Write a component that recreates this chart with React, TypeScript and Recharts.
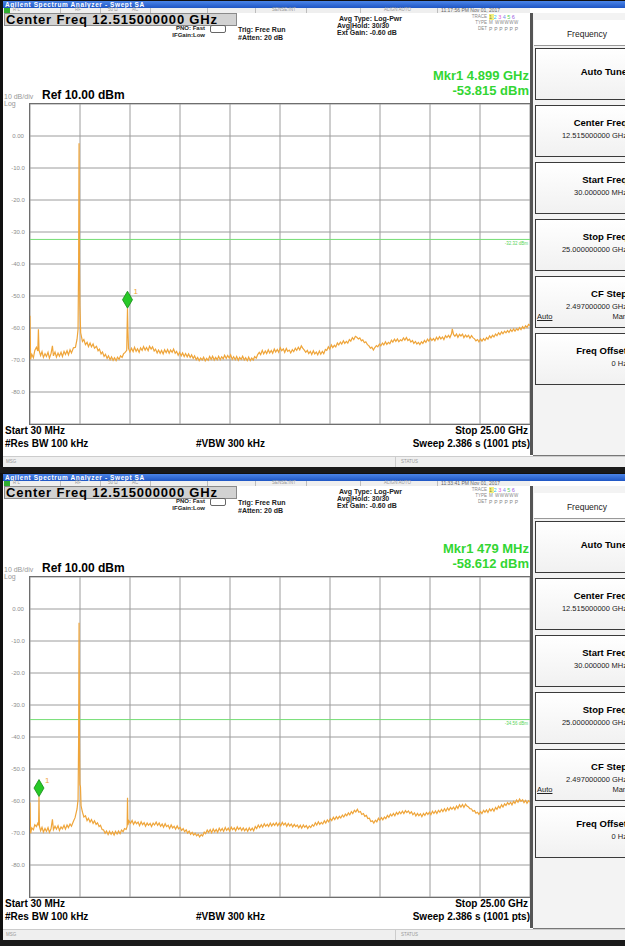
import React from 'react';
import {
  LineChart,
  Line,
  XAxis,
  YAxis,
  CartesianGrid,
  ReferenceLine,
  ReferenceDot,
} from 'recharts';

// sweep axis: start 30 MHz, stop 25 GHz, 10 divisions (CF step 2.497 GHz)
const FREQ_TICKS_GHZ = [0.03, 2.527, 5.024, 7.521, 10.018, 12.515, 15.012, 17.509, 20.006, 22.503, 25];
const LEVEL_TICKS_DBM = [10, 0, -10, -20, -30, -40, -50, -60, -70, -80, -90];
const LEVEL_TICK_LABELS = ['', '0.00', '-10.0', '-20.0', '-30.0', '-40.0', '-50.0', '-60.0', '-70.0', '-80.0', ''];

// [GHz, dBm]
const TRACE_TOP: [number, number][] = [
  [0.03, -56.2], [0.06, -69.8], [0.12, -68.2], [0.2, -69.3], [0.27, -67.0], [0.35, -66.0], [0.42, -67.2], [0.45, -60.4],
  [0.48, -66.9], [0.56, -68.6], [0.63, -67.4], [0.7, -69.2], [0.78, -68.0], [0.85, -68.9], [0.93, -67.6], [1.0, -69.4],
  [1.08, -68.0], [1.15, -65.6], [1.2, -68.7], [1.28, -67.5], [1.35, -69.1], [1.43, -67.8], [1.5, -68.8], [1.58, -67.6],
  [1.65, -68.9], [1.73, -67.3], [1.8, -68.3], [1.88, -67.1], [1.95, -68.4], [2.03, -66.8], [2.1, -67.8], [2.2, -66.2],
  [2.3, -66.0], [2.38, -63.5], [2.43, -60.4], [2.46, -38.0], [2.48, -2.3], [2.5, -40.0], [2.52, -53.0], [2.56, -61.5],
  [2.65, -64.2], [2.72, -63.6], [2.8, -65.2], [2.88, -64.5], [2.95, -65.8], [3.03, -64.7], [3.1, -65.9], [3.18, -65.0],
  [3.25, -66.3], [3.35, -65.7], [3.43, -67.1], [3.5, -66.6], [3.58, -68.1], [3.65, -67.5], [3.73, -68.9], [3.8, -68.2],
  [3.88, -69.5], [3.95, -68.7], [4.03, -69.9], [4.1, -69.0], [4.18, -70.1], [4.25, -69.3], [4.33, -70.2], [4.4, -69.1],
  [4.48, -69.8], [4.55, -68.7], [4.63, -69.2], [4.7, -68.1], [4.78, -67.6], [4.86, -67.0], [4.88, -60.0], [4.899, -53.815],
  [4.92, -60.5], [4.95, -66.4], [5.02, -67.5], [5.1, -66.3], [5.18, -67.4], [5.25, -66.0], [5.33, -67.3], [5.4, -66.5],
  [5.48, -67.6], [5.55, -66.2], [5.63, -67.0], [5.7, -65.8], [5.78, -66.9], [5.85, -66.1], [5.93, -67.1], [6.0, -65.7],
  [6.08, -66.6], [6.15, -65.9], [6.23, -67.2], [6.3, -66.6], [6.38, -67.8], [6.45, -66.9], [6.53, -67.9], [6.6, -67.0],
  [6.68, -68.1], [6.75, -66.8], [6.83, -67.7], [6.9, -66.7], [6.98, -67.9], [7.05, -66.9], [7.13, -67.6], [7.2, -66.6],
  [7.28, -67.9], [7.35, -67.3], [7.43, -68.5], [7.5, -67.6], [7.58, -68.7], [7.65, -67.8], [7.73, -68.9], [7.8, -68.0],
  [7.88, -69.0], [7.95, -68.1], [8.03, -69.2], [8.1, -68.4], [8.18, -69.5], [8.25, -68.7], [8.33, -69.9], [8.4, -69.2],
  [8.48, -70.2], [8.55, -69.4], [8.63, -70.0], [8.7, -69.1], [8.78, -70.3], [8.85, -69.5], [8.93, -70.1], [9.0, -68.9],
  [9.08, -69.8], [9.15, -68.8], [9.23, -70.0], [9.3, -69.2], [9.38, -69.9], [9.45, -68.8], [9.53, -69.9], [9.6, -69.0],
  [9.68, -69.6], [9.75, -68.5], [9.83, -69.5], [9.9, -68.6], [9.98, -69.4], [10.05, -68.4], [10.13, -69.8], [10.2, -69.0],
  [10.28, -69.9], [10.35, -68.9], [10.43, -70.1], [10.5, -69.2], [10.58, -69.8], [10.65, -68.8], [10.73, -70.0], [10.8, -69.3],
  [10.88, -70.2], [10.95, -69.1], [11.03, -70.2], [11.1, -69.4], [11.18, -70.0], [11.25, -68.9], [11.33, -69.4], [11.4, -68.3],
  [11.48, -67.6], [11.55, -68.3], [11.63, -67.0], [11.7, -68.1], [11.78, -67.2], [11.85, -68.0], [11.93, -66.8], [12.0, -67.8],
  [12.08, -67.0], [12.15, -67.9], [12.23, -66.6], [12.3, -67.5], [12.38, -66.7], [12.45, -67.6], [12.53, -66.2], [12.6, -67.1],
  [12.68, -66.5], [12.75, -67.6], [12.83, -66.4], [12.9, -67.3], [12.98, -66.9], [13.05, -67.8], [13.13, -66.8], [13.2, -67.4],
  [13.28, -66.3], [13.35, -67.0], [13.43, -66.0], [13.5, -66.8], [13.58, -65.6], [13.65, -66.3], [13.73, -66.9], [13.8, -67.6],
  [13.88, -67.0], [13.95, -68.0], [14.03, -67.3], [14.1, -68.3], [14.18, -67.1], [14.25, -68.1], [14.33, -67.5], [14.4, -68.4],
  [14.48, -67.2], [14.55, -68.2], [14.63, -67.3], [14.7, -68.0], [14.78, -66.7], [14.85, -67.0], [14.93, -65.9], [15.0, -66.6],
  [15.08, -65.3], [15.15, -66.1], [15.23, -65.4], [15.3, -65.9], [15.38, -64.7], [15.45, -65.3], [15.53, -64.4], [15.6, -65.0],
  [15.68, -64.0], [15.75, -64.8], [15.83, -64.2], [15.9, -64.7], [15.98, -63.6], [16.05, -64.1], [16.13, -63.0], [16.2, -63.6],
  [16.28, -62.6], [16.35, -62.9], [16.43, -63.4], [16.5, -63.1], [16.58, -64.0], [16.65, -63.7], [16.73, -64.6], [16.8, -64.3],
  [16.88, -65.2], [16.95, -65.5], [17.03, -66.3], [17.1, -66.0], [17.18, -66.9], [17.25, -66.1], [17.33, -65.5], [17.4, -65.9],
  [17.48, -65.0], [17.55, -65.6], [17.63, -64.7], [17.7, -65.3], [17.78, -64.3], [17.85, -65.1], [17.93, -64.5], [18.0, -64.9],
  [18.08, -63.8], [18.15, -64.4], [18.23, -63.5], [18.3, -64.2], [18.38, -63.4], [18.45, -64.3], [18.53, -63.7], [18.6, -64.0],
  [18.68, -63.1], [18.75, -63.8], [18.83, -63.0], [18.9, -63.9], [18.98, -63.5], [19.05, -64.4], [19.13, -63.9], [19.2, -64.8],
  [19.28, -64.2], [19.35, -65.0], [19.43, -64.5], [19.5, -65.2], [19.58, -64.3], [19.65, -64.8], [19.73, -63.9], [19.8, -64.5],
  [19.88, -63.5], [19.95, -64.1], [20.03, -63.2], [20.1, -63.9], [20.18, -63.3], [20.25, -64.0], [20.33, -62.9], [20.4, -63.6],
  [20.48, -62.7], [20.55, -63.4], [20.63, -62.8], [20.7, -63.6], [20.78, -62.4], [20.85, -63.0], [20.93, -62.3], [21.0, -63.0],
  [21.08, -61.8], [21.12, -60.3], [21.18, -62.0], [21.25, -62.6], [21.33, -61.9], [21.4, -62.9], [21.48, -62.0], [21.55, -62.5],
  [21.63, -61.9], [21.7, -63.0], [21.78, -62.2], [21.85, -62.8], [21.93, -62.3], [22.0, -63.2], [22.08, -62.4], [22.15, -63.0],
  [22.23, -63.4], [22.3, -64.0], [22.38, -63.6], [22.45, -64.3], [22.53, -63.4], [22.6, -64.1], [22.68, -63.3], [22.75, -63.9],
  [22.83, -63.0], [22.9, -63.5], [22.98, -62.5], [23.05, -63.1], [23.13, -62.3], [23.2, -62.8], [23.28, -61.9], [23.35, -62.4],
  [23.43, -61.5], [23.5, -62.1], [23.58, -61.2], [23.65, -61.8], [23.73, -61.0], [23.8, -61.5], [23.88, -60.8], [23.95, -61.4],
  [24.03, -60.5], [24.1, -61.1], [24.18, -60.3], [24.25, -61.0], [24.33, -60.2], [24.4, -60.7], [24.48, -59.9], [24.55, -60.5],
  [24.63, -59.6], [24.7, -60.2], [24.78, -59.3], [24.85, -59.8], [24.93, -58.9], [25.0, -59.2],
];

// [GHz, dBm]
const TRACE_BOTTOM: [number, number][] = [
  [0.03, -60.5], [0.06, -70.1], [0.12, -68.4], [0.2, -69.0], [0.27, -67.4], [0.35, -68.0], [0.42, -67.0], [0.46, -67.6],
  [0.479, -58.612], [0.5, -67.9], [0.56, -69.3], [0.63, -68.2], [0.7, -69.7], [0.78, -68.6], [0.85, -69.5], [0.93, -68.3],
  [1.0, -69.8], [1.08, -68.7], [1.15, -65.7], [1.2, -69.0], [1.28, -67.9], [1.35, -68.8], [1.43, -67.7], [1.5, -69.2],
  [1.58, -68.1], [1.65, -68.7], [1.73, -67.6], [1.8, -68.8], [1.88, -67.5], [1.95, -68.3], [2.03, -67.2], [2.1, -67.9],
  [2.2, -66.3], [2.28, -65.2], [2.38, -62.5], [2.43, -59.5], [2.46, -40.0], [2.48, -4.3], [2.5, -40.0], [2.52, -54.8],
  [2.55, -55.5], [2.58, -61.5], [2.65, -63.5], [2.72, -65.0], [2.8, -64.6], [2.88, -66.1], [2.95, -65.4], [3.03, -66.6],
  [3.1, -65.8], [3.18, -67.0], [3.25, -66.2], [3.33, -67.3], [3.4, -66.8], [3.48, -68.0], [3.55, -67.6], [3.63, -68.9],
  [3.7, -69.0], [3.78, -70.1], [3.85, -69.4], [3.93, -70.5], [4.0, -69.5], [4.08, -70.4], [4.15, -69.6], [4.23, -70.6],
  [4.3, -69.5], [4.38, -70.3], [4.45, -69.4], [4.53, -70.2], [4.6, -69.1], [4.68, -69.6], [4.75, -68.6], [4.83, -68.9],
  [4.88, -68.0], [4.9, -59.0], [4.92, -67.5], [4.97, -66.2], [5.05, -67.0], [5.13, -66.1], [5.2, -67.3], [5.28, -66.4],
  [5.35, -67.1], [5.43, -66.6], [5.5, -67.7], [5.58, -66.5], [5.65, -67.4], [5.73, -66.8], [5.8, -67.9], [5.88, -66.9],
  [5.95, -67.6], [6.03, -67.0], [6.1, -68.0], [6.18, -66.9], [6.25, -67.5], [6.33, -66.6], [6.4, -67.6], [6.48, -66.9],
  [6.55, -67.9], [6.63, -67.2], [6.7, -68.2], [6.78, -67.1], [6.85, -68.0], [6.93, -67.6], [7.0, -68.6], [7.08, -67.5],
  [7.15, -68.4], [7.23, -67.9], [7.3, -68.8], [7.38, -67.8], [7.45, -68.7], [7.53, -68.3], [7.6, -69.2], [7.68, -68.6],
  [7.75, -69.6], [7.83, -69.0], [7.9, -70.0], [7.98, -69.4], [8.05, -70.4], [8.13, -69.8], [8.2, -70.6], [8.28, -70.1],
  [8.35, -70.9], [8.43, -70.4], [8.5, -71.2], [8.58, -70.5], [8.65, -70.9], [8.73, -69.7], [8.8, -70.2], [8.88, -69.1],
  [8.95, -69.8], [9.03, -68.9], [9.1, -69.9], [9.18, -68.7], [9.25, -69.6], [9.33, -68.9], [9.4, -69.8], [9.48, -68.5],
  [9.55, -69.3], [9.63, -68.6], [9.7, -69.5], [9.78, -68.3], [9.85, -69.2], [9.93, -68.5], [10.0, -69.4], [10.08, -68.2],
  [10.15, -69.0], [10.23, -68.4], [10.3, -69.3], [10.38, -68.1], [10.45, -68.9], [10.53, -68.3], [10.6, -69.2], [10.68, -68.4],
  [10.75, -69.3], [10.83, -68.6], [10.9, -69.5], [10.98, -68.4], [11.05, -69.2], [11.13, -68.5], [11.2, -69.3], [11.28, -68.0],
  [11.35, -68.6], [11.43, -67.5], [11.5, -68.3], [11.58, -67.4], [11.65, -68.2], [11.73, -67.1], [11.8, -67.9], [11.88, -67.3],
  [11.95, -68.0], [12.03, -66.9], [12.1, -67.8], [12.18, -67.0], [12.25, -67.6], [12.33, -66.8], [12.4, -67.7], [12.48, -66.9],
  [12.55, -67.8], [12.63, -66.7], [12.7, -67.5], [12.78, -66.9], [12.85, -67.9], [12.93, -67.0], [13.0, -67.8], [13.08, -67.2],
  [13.15, -68.1], [13.23, -67.3], [13.3, -68.0], [13.38, -67.5], [13.45, -68.4], [13.53, -67.6], [13.6, -68.5], [13.68, -67.5],
  [13.75, -68.2], [13.83, -67.7], [13.9, -68.6], [13.98, -67.8], [14.05, -68.3], [14.13, -67.4], [14.2, -67.9], [14.28, -66.8],
  [14.35, -67.5], [14.43, -66.5], [14.5, -67.3], [14.58, -66.7], [14.65, -67.2], [14.73, -66.2], [14.8, -66.9], [14.88, -65.9],
  [14.95, -66.5], [15.03, -65.5], [15.1, -66.1], [15.18, -65.1], [15.25, -65.8], [15.33, -64.9], [15.4, -65.6], [15.48, -64.8],
  [15.55, -65.3], [15.63, -64.4], [15.7, -65.0], [15.78, -64.1], [15.85, -64.6], [15.93, -63.7], [16.0, -64.3], [16.08, -63.3],
  [16.15, -63.9], [16.23, -62.9], [16.3, -63.4], [16.38, -62.6], [16.45, -63.5], [16.53, -63.3], [16.6, -64.2], [16.68, -63.9],
  [16.75, -64.8], [16.83, -64.5], [16.9, -65.5], [16.98, -65.4], [17.05, -66.4], [17.13, -66.2], [17.2, -66.9], [17.28, -66.0],
  [17.35, -66.5], [17.43, -65.4], [17.5, -66.0], [17.58, -65.2], [17.65, -65.9], [17.73, -65.0], [17.8, -65.5], [17.88, -64.5],
  [17.95, -65.1], [18.03, -64.1], [18.1, -64.7], [18.18, -63.9], [18.25, -64.6], [18.33, -63.6], [18.4, -64.2], [18.48, -63.4],
  [18.55, -64.0], [18.63, -63.2], [18.7, -63.9], [18.78, -63.0], [18.85, -63.6], [18.93, -63.1], [19.0, -63.9], [19.08, -63.4],
  [19.15, -64.3], [19.23, -63.7], [19.3, -64.7], [19.38, -63.9], [19.45, -64.6], [19.53, -64.0], [19.6, -64.9], [19.68, -63.9],
  [19.75, -64.5], [19.83, -63.6], [19.9, -64.2], [19.98, -63.5], [20.05, -64.3], [20.13, -63.2], [20.2, -63.9], [20.28, -63.1],
  [20.35, -63.9], [20.43, -62.9], [20.5, -63.5], [20.58, -62.6], [20.65, -63.3], [20.73, -62.4], [20.8, -63.2], [20.88, -62.2],
  [20.95, -62.9], [21.03, -62.0], [21.1, -62.6], [21.18, -61.9], [21.25, -62.7], [21.33, -61.6], [21.4, -62.3], [21.48, -61.2],
  [21.55, -61.9], [21.63, -61.1], [21.7, -62.0], [21.78, -61.0], [21.85, -61.6], [21.93, -61.9], [22.0, -62.4], [22.08, -62.5],
  [22.15, -63.2], [22.23, -63.0], [22.3, -63.8], [22.38, -63.5], [22.45, -64.2], [22.53, -63.3], [22.6, -63.9], [22.68, -62.9],
  [22.75, -63.5], [22.83, -62.8], [22.9, -63.6], [22.98, -62.5], [23.05, -63.1], [23.13, -62.4], [23.2, -63.2], [23.28, -62.0],
  [23.35, -62.6], [23.43, -61.6], [23.5, -62.2], [23.58, -61.2], [23.65, -61.9], [23.73, -60.9], [23.8, -61.4], [23.88, -60.5],
  [23.95, -61.1], [24.03, -60.4], [24.1, -61.2], [24.18, -60.1], [24.25, -60.7], [24.33, -59.7], [24.4, -60.4], [24.48, -59.4],
  [24.55, -60.1], [24.63, -59.6], [24.7, -60.5], [24.78, -59.8], [24.85, -60.7], [24.93, -59.9], [25.0, -60.3],
];

const SOFTKEYS = [
  { title: 'Auto Tune', value: '' },
  { title: 'Center Freq', value: '12.515000000 GHz' },
  { title: 'Start Freq', value: '30.000000 MHz' },
  { title: 'Stop Freq', value: '25.000000000 GHz' },
  { title: 'CF Step', value: '2.497000000 GHz' },
  { title: 'Freq Offset', value: '0 Hz' },
];

const SCREENS = [
  {
    time: '11:17:56 PM Nov 01, 2017',
    mkrFreq: 'Mkr1 4.899 GHz',
    mkrLevel: '-53.815 dBm',
    marker: [4.899, -53.815],
    threshold: -32.32,
    trace: TRACE_TOP,
  },
  {
    time: '11:33:41 PM Nov 01, 2017',
    mkrFreq: 'Mkr1 479 MHz',
    mkrLevel: '-58.612 dBm',
    marker: [0.479, -58.612],
    threshold: -34.56,
    trace: TRACE_BOTTOM,
  },
];

const SCREEN_H = 473;
const FONT = 'Arial, "Liberation Sans", sans-serif';
const TRACE_COLOR = '#efa53a';

const Txt = ({ x, y, size, bold, color, right, children, style }: any) => (
  <div
    style={{
      position: 'absolute',
      top: y,
      ...(right ? { right: 625 - x } : { left: x }),
      fontSize: size,
      fontWeight: bold ? 'bold' : 'normal',
      color: color || '#000',
      lineHeight: 1,
      whiteSpace: 'nowrap',
      ...style,
    }}
  >
    {children}
  </div>
);

const LevelTick = ({ y, payload }: any) => {
  const label = LEVEL_TICK_LABELS[LEVEL_TICKS_DBM.indexOf(payload.value)];
  return (
    <text x={18} y={y + 2} textAnchor="middle" fontSize={6} fill="#8c8c8c" fontFamily={FONT}>
      {label}
    </text>
  );
};

const MarkerDiamond = ({ cx, cy }: any) => (
  <g>
    <polygon
      points={`${cx},${cy - 17} ${cx + 5},${cy - 8.5} ${cx},${cy} ${cx - 5},${cy - 8.5}`}
      fill="#27c927"
      stroke="#138a13"
      strokeWidth={0.8}
    />
    <text x={cx + 6} y={cy - 14} fontSize={8} fill={TRACE_COLOR} fontFamily={FONT}>1</text>
  </g>
);

const Screen = ({ top, s }: any) => {
  const data = s.trace.map(([f, v]: [number, number]) => ({ f, v }));
  const sep = (left: number) => (
    <div style={{ position: 'absolute', left, top: 8, width: 1, height: 5, background: '#bdbdbd' }} />
  );
  return (
    <div style={{ position: 'absolute', left: 0, top, width: 625, height: SCREEN_H, overflow: 'hidden', background: '#fff', fontFamily: FONT }}>
      {/* frame + title bar */}
      <div style={{ position: 'absolute', left: 0, top: 0, width: 625, height: 1, background: '#111' }} />
      <div style={{ position: 'absolute', left: 0, top: 1, width: 625, height: 7, background: 'linear-gradient(#4a84e8, #1f56c4)' }} />
      <Txt x={5} y={1.5} size={6.5} bold color="#fff" style={{ letterSpacing: 0.6 }}>Agilent Spectrum Analyzer - Swept SA</Txt>
      <div style={{ position: 'absolute', left: 0, top: 0, width: 3, height: SCREEN_H, background: '#111' }} />

      {/* status row */}
      <div style={{ position: 'absolute', left: 3, top: 8, width: 527, height: 5, background: '#efefef' }} />
      <div style={{ position: 'absolute', left: 4, top: 8, width: 6, height: 5, background: '#2fae2f' }} />
      {[60, 100, 150, 207, 255, 306, 360, 437].map((x) => (
        <React.Fragment key={x}>{sep(x)}</React.Fragment>
      ))}
      <Txt x={13} y={8.3} size={4.5} color="#999">R L</Txt>
      <Txt x={75} y={8.3} size={4.5} color="#999">RF</Txt>
      <Txt x={108} y={8.3} size={4.5} color="#999">50 Ω</Txt>
      <Txt x={132} y={8.3} size={4.5} color="#999">AC</Txt>
      <Txt x={272} y={8.3} size={4.5} color="#999">SENSE:INT</Txt>
      <Txt x={384} y={8.3} size={4.5} color="#999">ALIGN AUTO</Txt>
      <Txt x={441} y={8.2} size={5} color="#666">{s.time}</Txt>

      {/* center freq box */}
      <div style={{ position: 'absolute', left: 4, top: 13, width: 231, height: 11, background: '#d2d2d2', border: '1px solid #8a8a8a' }} />
      <Txt x={6} y={12.8} size={13} bold style={{ letterSpacing: 0.8 }}>Center Freq 12.515000000 GHz</Txt>

      <Txt x={205} y={25} size={6} bold right color="#222">PNO: Fast</Txt>
      <div style={{ position: 'absolute', left: 210, top: 25, width: 14, height: 6, border: '1px solid #666', borderRadius: 2 }} />
      <Txt x={205} y={32} size={6} bold right color="#222">IFGain:Low</Txt>
      <Txt x={238} y={26} size={7} bold color="#222">Trig: Free Run</Txt>
      <Txt x={238} y={34} size={7} bold color="#222">#Atten: 20 dB</Txt>
      <Txt x={339} y={15} size={7} bold color="#222">Avg Type: Log-Pwr</Txt>
      <Txt x={337} y={22} size={7} bold color="#222">Avg|Hold: 30/30</Txt>
      <Txt x={337} y={29} size={7} bold color="#222">Ext Gain: -0.60 dB</Txt>

      {/* trace block */}
      <Txt x={487} y={15} size={4.5} right color="#888">TRACE</Txt>
      <div style={{ position: 'absolute', left: 489, top: 14.5, fontSize: 5.5, lineHeight: 1, whiteSpace: 'nowrap', letterSpacing: 1.5 }}>
        <span style={{ background: '#f4f07a', color: '#8c8c3c' }}>1</span>
        <span style={{ color: '#2ec4e8' }}>2</span>
        <span style={{ color: '#e05ad8' }}>3</span>
        <span style={{ color: '#7a8ce8' }}>4</span>
        <span style={{ color: '#52d052' }}>5</span>
        <span style={{ color: '#a060e0' }}>6</span>
      </div>
      <Txt x={487} y={21} size={4.5} right color="#888">TYPE</Txt>
      <Txt x={489} y={21} size={4.5} color="#888" style={{ letterSpacing: 0.5 }}>M WWWWW</Txt>
      <Txt x={487} y={27} size={4.5} right color="#888">DET</Txt>
      <Txt x={489} y={27} size={5} color="#888" style={{ letterSpacing: 1.8 }}>PPPPPP</Txt>

      {/* marker readout */}
      <Txt x={529} y={69} size={13} bold right color="#33d633">{s.mkrFreq}</Txt>
      <Txt x={529} y={84} size={13} bold right color="#33d633">{s.mkrLevel}</Txt>

      <Txt x={4} y={93} size={7} color="#999">10 dB/div</Txt>
      <Txt x={42} y={89} size={12} bold>Ref 10.00 dBm</Txt>
      <Txt x={4} y={99.5} size={7} color="#999">Log</Txt>

      {/* the plot */}
      <div style={{ position: 'absolute', left: 0, top: 103 }}>
        <LineChart width={531} height={322} data={data} margin={{ top: 1, right: 1, bottom: 1, left: 0 }}>
          <CartesianGrid stroke="#9c9c9c" strokeWidth={1} />
          <XAxis type="number" dataKey="f" domain={[0.03, 25]} ticks={FREQ_TICKS_GHZ} hide height={0} allowDataOverflow />
          <YAxis
            type="number"
            domain={[-90, 10]}
            ticks={LEVEL_TICKS_DBM}
            width={30}
            axisLine={false}
            tickLine={false}
            tick={<LevelTick />}
            interval={0}
            allowDataOverflow
          />
          <ReferenceLine
            y={s.threshold}
            stroke="#74de74"
            strokeWidth={1}
            label={{ value: `${s.threshold.toFixed(2)} dBm`, position: 'insideTopRight', fill: '#5ad45a', fontSize: 4.5, offset: 2 }}
          />
          <Line
            type="linear"
            dataKey="v"
            stroke={TRACE_COLOR}
            strokeWidth={1.2}
            dot={false}
            isAnimationActive={false}
          />
          <ReferenceDot x={s.marker[0]} y={s.marker[1]} r={0} shape={<MarkerDiamond />} ifOverflow="visible" />
        </LineChart>
      </div>
      <div style={{ position: 'absolute', left: 29, top: 103, width: 500, height: 320, border: '1px solid #6e6e6e', pointerEvents: 'none' }} />

      {/* footer */}
      <Txt x={5} y={426} size={10} bold>Start 30 MHz</Txt>
      <Txt x={528} y={426} size={10} bold right>Stop 25.00 GHz</Txt>
      <Txt x={5} y={439} size={10} bold>#Res BW 100 kHz</Txt>
      <Txt x={196} y={439} size={10} bold>#VBW 300 kHz</Txt>
      <Txt x={530} y={439} size={10} bold right>Sweep  2.386 s (1001 pts)</Txt>

      {/* side panel */}
      <div style={{ position: 'absolute', left: 530, top: 13, width: 3, height: 442, background: '#555' }} />
      <div style={{ position: 'absolute', left: 533, top: 13, width: 100, height: 442, background: '#f3f3f3', borderBottom: '1px solid #777' }} />
      <div style={{ position: 'absolute', left: 534, top: 20, width: 105, height: 25, background: '#fff', borderBottom: '1px solid #999' }} />
      <Txt x={587} y={30} size={8.5} color="#222" style={{ transform: 'translateX(-50%)' }}>Frequency</Txt>
      {SOFTKEYS.map((k, i) => {
        const y0 = 48 + i * 57;
        return (
          <div key={k.title}>
            <div style={{ position: 'absolute', left: 535, top: y0, width: 105, height: 50, background: 'linear-gradient(#ffffff, #f1f1f1)', border: '1px solid #3a3a3a' }} />
            {k.value ? (
              <>
                <Txt x={627} y={y0 + 13} size={9.5} bold right>{k.title}</Txt>
                <Txt x={627} y={y0 + 27} size={7.5} right color="#222">{k.value}</Txt>
              </>
            ) : (
              <Txt x={627} y={y0 + 19} size={9.5} bold right>{k.title}</Txt>
            )}
            {k.title === 'CF Step' && (
              <>
                <Txt x={537} y={y0 + 37} size={7.5} color="#222" style={{ textDecoration: 'underline' }}>Auto</Txt>
                <Txt x={627} y={y0 + 37} size={7.5} right color="#222">Man</Txt>
              </>
            )}
          </div>
        );
      })}

      {/* message bar */}
      <div style={{ position: 'absolute', left: 3, top: 456, width: 622, height: 11, background: '#efefef', borderTop: '1px solid #ccc' }} />
      <div style={{ position: 'absolute', left: 395, top: 456, width: 1, height: 11, background: '#ccc' }} />
      <Txt x={6} y={460} size={4.5} color="#999">MSG</Txt>
      <Txt x={401} y={460} size={4.5} color="#999">STATUS</Txt>
      <div style={{ position: 'absolute', left: 0, top: 467, width: 625, height: 6, background: '#1a1a1a' }} />
    </div>
  );
};

export default function App() {
  return (
    <div style={{ position: 'absolute', left: 0, top: 0, width: 625, height: 947, overflow: 'hidden', background: '#fff' }}>
      {SCREENS.map((s, i) => (
        <Screen key={i} top={i * SCREEN_H} s={s} />
      ))}
    </div>
  );
}
